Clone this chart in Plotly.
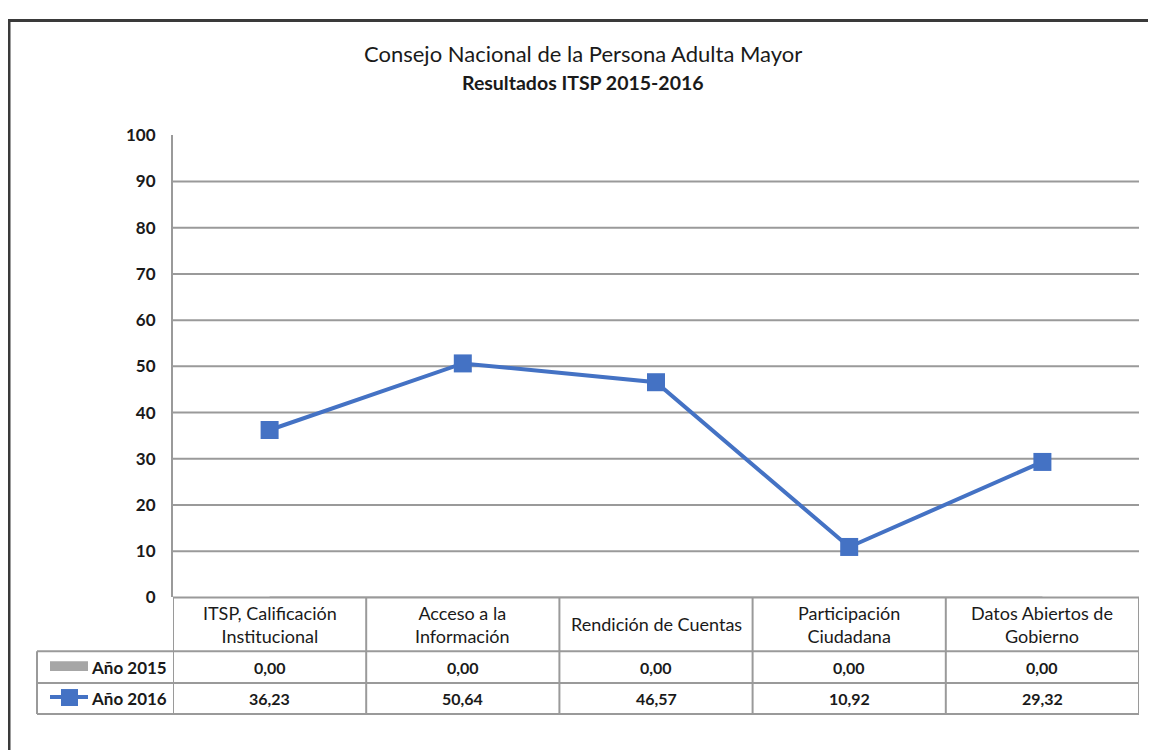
import plotly.graph_objects as go

categories = [
    "ITSP, Calificación<br>Institucional",
    "Acceso a la<br>Información",
    "Rendición de Cuentas",
    "Participación<br>Ciudadana",
    "Datos Abiertos de<br>Gobierno",
]
series_names = ["Año 2015", "Año 2016"]
values_2015 = [0.00, 0.00, 0.00, 0.00, 0.00]
values_2016 = [36.23, 50.64, 46.57, 10.92, 29.32]
y_ticks = [0, 10, 20, 30, 40, 50, 60, 70, 80, 90, 100]

W, H = 1156, 750
# calibration of where the page puts the figure in the screenshot
X0, Y0, YS = 8, 17.2, 0.976
FONT = "Lato, 'Open Sans', sans-serif"
BLUE = "#4472C4"
GRID = "#9a9a9a"
TXT = "#1a1a1a"


def px(x):
    return (x - X0) / W


def py(y):
    return 1 - ((y - Y0) / YS) / H


xs = list(range(len(categories)))

fig = go.Figure()
fig.add_trace(go.Scatter(
    x=xs, y=values_2015, name=series_names[0], mode="lines",
    line=dict(color="#a6a6a6", width=2), cliponaxis=False, showlegend=False,
))
fig.add_trace(go.Scatter(
    x=xs, y=values_2016, name=series_names[1], mode="lines+markers",
    line=dict(color=BLUE, width=4),
    marker=dict(symbol="square", size=18, color=BLUE),
    cliponaxis=False, showlegend=False,
))

shapes = []
annotations = []

# horizontal gridlines (no line at 100, 0 is the table border)
for v in y_ticks[1:-1]:
    shapes.append(dict(type="line", xref="x domain", yref="y", x0=0, x1=1, y0=v, y1=v,
                       line=dict(color=GRID, width=2), layer="below"))

# data table below the plot
y_head_top, y_head_bot, y_r1_bot, y_r2_bot = 598, 652, 684, 715
tline = dict(color=GRID, width=2)
n = len(categories)
shapes.append(dict(type="line", xref="x", yref="paper", x0=-0.5, x1=n - 0.5,
                   y0=py(y_head_top), y1=py(y_head_top), line=tline))
for yy in (y_head_bot, y_r1_bot, y_r2_bot):
    shapes.append(dict(type="line", xref="paper", yref="paper", x0=px(37), x1=px(1139),
                       y0=py(yy), y1=py(yy), line=tline))
for i in range(n + 1):
    shapes.append(dict(type="line", xref="x", yref="paper", x0=i - 0.5, x1=i - 0.5,
                       y0=py(y_head_top), y1=py(y_r2_bot), line=tline))
shapes.append(dict(type="line", xref="paper", yref="paper", x0=px(37), x1=px(37),
                   y0=py(y_head_bot), y1=py(y_r2_bot), line=tline))

head_font = dict(family=FONT, size=18, color=TXT)
cell_font = dict(family=FONT, size=16, color=TXT, weight="bold")
for i, c in enumerate(categories):
    annotations.append(dict(x=i, y=py((y_head_top + y_head_bot) / 2), xref="x", yref="paper",
                            yanchor="middle", text=c, showarrow=False, font=head_font))
    annotations.append(dict(x=i, y=py((y_head_bot + y_r1_bot) / 2), xref="x", yref="paper",
                            yanchor="middle", text=f"{values_2015[i]:.2f}".replace(".", ","),
                            showarrow=False, font=cell_font))
    annotations.append(dict(x=i, y=py((y_r1_bot + y_r2_bot) / 2), xref="x", yref="paper",
                            yanchor="middle", text=f"{values_2016[i]:.2f}".replace(".", ","),
                            showarrow=False, font=cell_font))

for name, (ya, yb) in zip(series_names, [(y_head_bot, y_r1_bot), (y_r1_bot, y_r2_bot)]):
    annotations.append(dict(x=-0.5, y=py((ya + yb) / 2), xref="x", yref="paper",
                            xanchor="right", yanchor="middle", xshift=-4, text=name,
                            showarrow=False,
                            font=dict(family=FONT, size=17, color=TXT, weight="bold")))

# legend keys in the table
shapes.append(dict(type="rect", xref="paper", yref="paper", x0=px(50), x1=px(88),
                   y0=py(672), y1=py(662), fillcolor="#a6a6a6", line=dict(width=0)))
shapes.append(dict(type="line", xref="paper", yref="paper", x0=px(50), x1=px(88),
                   y0=py(698), y1=py(698), line=dict(color=BLUE, width=4)))
shapes.append(dict(type="rect", xref="paper", yref="paper", x0=px(61), x1=px(78),
                   y0=py(707), y1=py(690), fillcolor=BLUE, line=dict(width=0)))

# outer frame
shapes.append(dict(type="rect", xref="paper", yref="paper", x0=px(9), x1=1.05,
                   y0=-0.05, y1=0.998, line=dict(color="#3a3a3a", width=3)))

annotations.append(dict(x=px(583), y=py(52), xref="paper", yref="paper", yanchor="middle",
                        text="Consejo Nacional de la Persona Adulta Mayor", showarrow=False,
                        font=dict(family=FONT, size=22, color=TXT)))
annotations.append(dict(x=px(583), y=py(81), xref="paper", yref="paper", yanchor="middle",
                        text="Resultados ITSP 2015-2016", showarrow=False,
                        font=dict(family=FONT, size=19.5, color=TXT, weight="bold")))

fig.update_layout(
    width=W, height=H,
    margin=dict(l=0, r=0, t=0, b=0),
    paper_bgcolor="white", plot_bgcolor="white",
    showlegend=False,
    xaxis=dict(domain=[px(173), px(1139)], range=[-0.5, n - 0.5], showgrid=False,
               zeroline=False, showticklabels=False, showline=False, fixedrange=True),
    yaxis=dict(domain=[py(598), py(134)], range=[0, 100], tickvals=y_ticks,
               showgrid=False, zeroline=False, showline=True, linecolor=GRID, linewidth=2,
               ticks="", ticklabelstandoff=12,
               tickfont=dict(family=FONT, size=17, color=TXT, weight="bold"), fixedrange=True),
    shapes=shapes,
    annotations=annotations,
)

fig.write_html("out.html")
